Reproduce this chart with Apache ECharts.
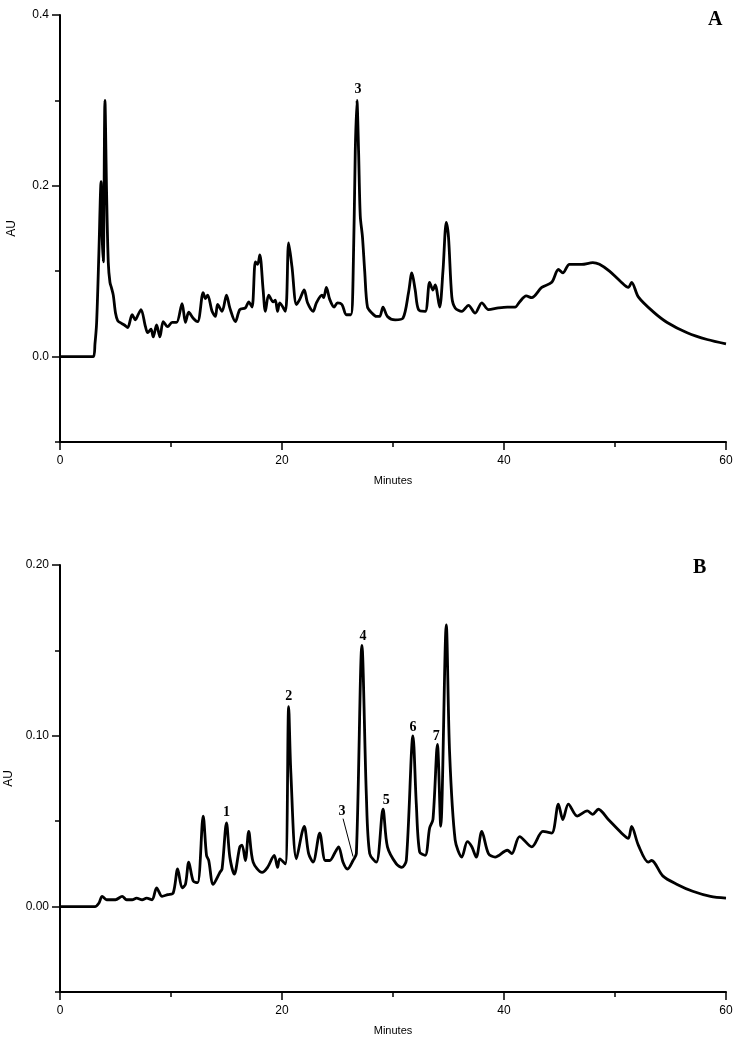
<!DOCTYPE html>
<html>
<head>
<meta charset="utf-8">
<script src="https://cdn.jsdelivr.net/npm/echarts@6/dist/echarts.min.js"></script>
<style>
  html, body { margin: 0; padding: 0; background: #fff; }
  #chart { width: 737px; height: 1041px; }
</style>
</head>
<body>
<div id="chart"></div>
<script>
// chromatogram A (minutes / AU)
var timeA = [0, 3.0, 3.15, 3.3, 3.5, 3.7, 3.8, 3.9, 4.05, 4.2, 4.35, 4.5, 4.65, 4.8, 5.0, 5.2, 5.4, 5.8, 6.1, 6.5, 6.8, 7.0, 7.3, 7.7, 7.9, 8.2, 8.4, 8.7, 9.0, 9.3, 9.7, 10.1, 10.5, 11.0, 11.3, 11.6, 12.0, 12.4, 12.9, 13.1, 13.3, 13.7, 14.0, 14.2, 14.6, 15.0, 15.3, 15.8, 16.2, 16.7, 17.0, 17.3, 17.6, 17.8, 18.0, 18.3, 18.5, 18.8, 19.2, 19.4, 19.6, 19.8, 20.3, 20.6, 20.9, 21.3, 21.6, 22.0, 22.3, 22.8, 23.1, 23.6, 23.75, 24.0, 24.3, 24.7, 25.0, 25.4, 25.8, 26.2, 26.4, 26.6, 26.75, 26.9, 27.05, 27.25, 27.45, 27.7, 28.1, 28.5, 28.8, 29.1, 29.5, 30.2, 30.9, 31.4, 31.7, 32.0, 32.3, 32.9, 33.3, 33.6, 33.8, 34.2, 34.5, 34.8, 35.0, 35.3, 35.6, 36.2, 36.8, 37.4, 38.0, 38.6, 39.5, 40.3, 41.0, 41.4, 42.0, 42.5, 43.4, 44.3, 44.9, 45.3, 45.9, 47.0, 48.0, 48.6, 49.5, 50.5, 51.2, 51.5, 52.1, 53.4, 54.7, 56.5, 58.3, 60];
var auA = [0, 0, 0.015, 0.04, 0.12, 0.205, 0.14, 0.111, 0.30, 0.19, 0.11, 0.087, 0.08, 0.072, 0.051, 0.042, 0.04, 0.037, 0.034, 0.049, 0.043, 0.048, 0.055, 0.035, 0.028, 0.032, 0.023, 0.037, 0.023, 0.041, 0.035, 0.04, 0.04, 0.062, 0.04, 0.052, 0.045, 0.041, 0.075, 0.068, 0.072, 0.053, 0.047, 0.061, 0.053, 0.072, 0.057, 0.041, 0.055, 0.057, 0.064, 0.058, 0.111, 0.108, 0.119, 0.078, 0.053, 0.072, 0.064, 0.066, 0.053, 0.063, 0.053, 0.133, 0.105, 0.061, 0.067, 0.078, 0.063, 0.053, 0.063, 0.072, 0.069, 0.081, 0.067, 0.058, 0.063, 0.061, 0.049, 0.049, 0.09, 0.24, 0.30, 0.24, 0.165, 0.14, 0.10, 0.058, 0.051, 0.047, 0.047, 0.058, 0.047, 0.043, 0.045, 0.075, 0.098, 0.078, 0.055, 0.053, 0.087, 0.078, 0.084, 0.058, 0.10, 0.157, 0.14, 0.07, 0.057, 0.053, 0.06, 0.051, 0.063, 0.055, 0.057, 0.058, 0.058, 0.064, 0.071, 0.069, 0.081, 0.087, 0.102, 0.098, 0.108, 0.108, 0.110, 0.108, 0.100, 0.088, 0.081, 0.087, 0.070, 0.053, 0.040, 0.028, 0.020, 0.015];

// chromatogram B
var timeB = [0, 3.15, 3.5, 3.8, 4.2, 4.6, 5.0, 5.6, 6.0, 6.5, 6.9, 7.4, 7.8, 8.3, 8.7, 9.2, 9.7, 10.2, 10.6, 11.0, 11.3, 11.6, 12.0, 12.4, 12.9, 13.2, 13.4, 13.8, 14.4, 14.6, 15.0, 15.3, 15.7, 16.2, 16.4, 16.7, 17.0, 17.4, 18.2, 18.7, 19.3, 19.6, 19.8, 20.3, 20.6, 20.8, 21.3, 22.0, 22.4, 22.8, 23.4, 23.9, 24.3, 24.8, 25.1, 25.5, 25.9, 26.4, 26.7, 27.2, 27.6, 27.9, 28.5, 29.1, 29.5, 30.3, 30.8, 31.2, 31.8, 32.1, 32.4, 32.9, 33.3, 33.6, 34.0, 34.3, 34.8, 35.1, 35.6, 36.2, 36.7, 37.1, 37.5, 38.0, 38.6, 39.2, 40.3, 40.7, 41.4, 42.5, 43.5, 44.3, 44.9, 45.3, 45.8, 46.6, 47.5, 48.0, 48.5, 49.4, 50.6, 51.2, 51.5, 52.1, 53.0, 53.3, 54.3, 55.6, 57.0, 58.6, 60];
var auB = [0, 0, 0.002, 0.006, 0.004, 0.004, 0.004, 0.006, 0.004, 0.004, 0.005, 0.004, 0.005, 0.004, 0.011, 0.006, 0.007, 0.008, 0.022, 0.011, 0.013, 0.026, 0.015, 0.014, 0.053, 0.03, 0.027, 0.013, 0.020, 0.022, 0.049, 0.029, 0.019, 0.035, 0.036, 0.027, 0.044, 0.026, 0.020, 0.023, 0.030, 0.023, 0.028, 0.025, 0.117, 0.078, 0.028, 0.047, 0.031, 0.026, 0.043, 0.027, 0.027, 0.032, 0.035, 0.026, 0.022, 0.027, 0.031, 0.153, 0.065, 0.031, 0.026, 0.057, 0.035, 0.025, 0.023, 0.027, 0.100, 0.06, 0.032, 0.030, 0.046, 0.051, 0.095, 0.047, 0.165, 0.09, 0.039, 0.029, 0.038, 0.035, 0.029, 0.044, 0.031, 0.029, 0.033, 0.031, 0.041, 0.035, 0.044, 0.043, 0.060, 0.051, 0.060, 0.053, 0.056, 0.054, 0.057, 0.051, 0.043, 0.040, 0.047, 0.036, 0.026, 0.027, 0.018, 0.013, 0.009, 0.006, 0.005];

// peak numbers: label, minutes, AU (where the number sits)
var peaksA = [['3', 26.85, 0.313]];
var peaksB = [['1', 15.0, 0.055], ['2', 20.6, 0.123], ['3', 25.4, 0.0556], ['4', 27.3, 0.158], ['5', 29.4, 0.062], ['6', 31.8, 0.105], ['7', 33.9, 0.0995]];
var leaderB = [[25.5, 0.0515], [26.4, 0.0293]];

var yLabelsA = [0, 0.2, 0.4];
var yMinorA = [-0.1, 0.1, 0.3];
var yLabelsB = [0, 0.1, 0.2];
var yMinorB = [-0.05, 0.05, 0.15];

function zip(t, v) {
    var out = [];
    for (var i = 0; i < t.length; i++) {
        out.push([t[i], v[i]]);
    }
    return out;
}

function peakPoints(list) {
    return list.map(function (p) {
        return { coord: [p[1], p[2]], value: p[0] };
    });
}

var sans = 'Liberation Sans';
var serif = 'Liberation Serif';

function xAxisFor(idx) {
    return {
        type: 'value', gridIndex: idx, min: 0, max: 60, interval: 20,
        name: 'Minutes', nameLocation: 'middle', nameGap: 33,
        nameTextStyle: { fontFamily: sans, fontSize: 11, color: '#000' },
        axisLine: { onZero: false, lineStyle: { color: '#000', width: 2 } },
        axisTick: { length: 8, lineStyle: { color: '#000', width: 1.5 } },
        minorTick: { show: true, splitNumber: 2, length: 5, lineStyle: { color: '#000', width: 1.5 } },
        axisLabel: { fontFamily: sans, fontSize: 12, color: '#000', margin: 13 },
        splitLine: { show: false }
    };
}

function yMajor(idx, min, max, labels, digits) {
    return {
        type: 'value', gridIndex: idx, min: min, max: max, position: 'left',
        name: 'AU', nameLocation: 'middle', nameGap: 42, nameRotate: 90,
        nameTextStyle: { fontFamily: sans, fontSize: 12, color: '#000' },
        axisLine: { show: true, onZero: false, lineStyle: { color: '#000', width: 2 } },
        axisTick: { show: true, length: 8, customValues: labels, lineStyle: { color: '#000', width: 1.5 } },
        axisLabel: {
            fontFamily: sans, fontSize: 12, color: '#000', margin: 11,
            customValues: labels,
            formatter: function (v) { return v.toFixed(digits); }
        },
        splitLine: { show: false }
    };
}

function yMinor(idx, min, max, ticks) {
    return {
        type: 'value', gridIndex: idx, min: min, max: max, position: 'left',
        axisLine: { show: false, onZero: false },
        axisTick: { show: true, length: 5, customValues: ticks, lineStyle: { color: '#000', width: 1.5 } },
        axisLabel: { show: false, customValues: ticks },
        splitLine: { show: false }
    };
}

var peakLabel = {
    show: true, position: 'inside', formatter: '{c}',
    fontFamily: serif, fontWeight: 'bold', fontSize: 14, color: '#000'
};

var chart = echarts.init(document.getElementById('chart'), null, { renderer: 'canvas' });
chart.setOption({
    animation: false,
    backgroundColor: '#fff',
    title: [
        { text: 'A', left: 703, top: 5, textStyle: { fontFamily: serif, fontWeight: 'bold', fontSize: 20, color: '#000' } },
        { text: 'B', left: 688, top: 553, textStyle: { fontFamily: serif, fontWeight: 'bold', fontSize: 20, color: '#000' } }
    ],
    grid: [
        { left: 60, top: 15, width: 666, height: 427, outerBoundsMode: 'none', containLabel: false },
        { left: 60, top: 565, width: 666, height: 427, outerBoundsMode: 'none', containLabel: false }
    ],
    xAxis: [xAxisFor(0), xAxisFor(1)],
    yAxis: [
        yMajor(0, -0.1, 0.4, yLabelsA, 1),
        yMinor(0, -0.1, 0.4, yMinorA),
        yMajor(1, -0.05, 0.2, yLabelsB, 2),
        yMinor(1, -0.05, 0.2, yMinorB)
    ],
    series: [
        {
            type: 'line', xAxisIndex: 0, yAxisIndex: 0,
            data: zip(timeA, auA), showSymbol: false, smooth: 0.3,
            lineStyle: { color: '#000', width: 2.8, join: 'round' },
            markPoint: { symbol: 'circle', symbolSize: 0, label: peakLabel, data: peakPoints(peaksA) }
        },
        {
            type: 'line', xAxisIndex: 1, yAxisIndex: 2,
            data: zip(timeB, auB), showSymbol: false, smooth: 0.3,
            lineStyle: { color: '#000', width: 2.8, join: 'round' },
            markPoint: { symbol: 'circle', symbolSize: 0, label: peakLabel, data: peakPoints(peaksB) },
            markLine: {
                silent: true, symbol: 'none', label: { show: false },
                lineStyle: { color: '#000', width: 1, type: 'solid' },
                data: [[{ coord: leaderB[0] }, { coord: leaderB[1] }]]
            }
        }
    ]
});
</script>
</body>
</html>
